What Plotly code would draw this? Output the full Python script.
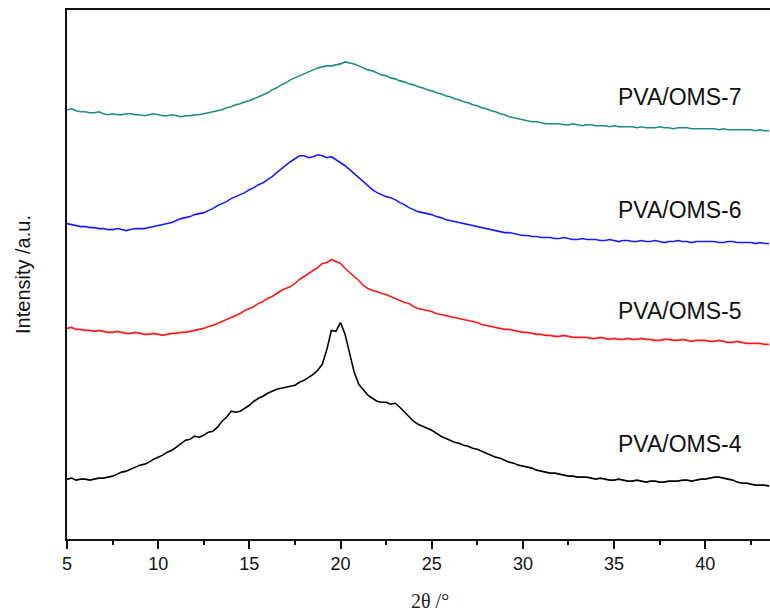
import plotly.graph_objects as go

# 2theta grid (degrees), 0.25 deg step from 5 to 43.5
two_theta = [5.0 + 0.25 * i for i in range(155)]

# Intensities (a.u., offset-stacked as in the figure)
oms4 = [60, 61, 59, 60, 60, 59, 60, 61, 61, 62,
        63, 65, 67, 68, 70, 72, 74, 75, 77, 80,
        82, 84, 87, 89, 92, 96, 99, 100, 103, 102,
        104, 107, 108, 112, 118, 122, 128, 127, 128, 131,
        134, 138, 141, 143, 146, 148, 150, 151, 152, 153,
        154, 157, 159, 162, 165, 169, 175, 190, 209, 208,
        217, 205, 185, 167, 155, 149, 144, 141, 138, 137,
        137, 135, 136, 132, 127, 122, 118, 115, 113, 111,
        109, 106, 103, 101, 99, 97, 96, 94, 93, 91,
        90, 88, 86, 84, 82, 81, 79, 77, 76, 74,
        73, 72, 71, 69, 68, 67, 66, 66, 65, 64,
        63, 63, 62, 62, 62, 61, 60, 61, 60, 59,
        59, 60, 59, 58, 58, 59, 58, 57, 58, 58,
        57, 57, 58, 58, 58, 59, 59, 58, 59, 60,
        60, 61, 62, 62, 61, 60, 59, 57, 56, 56,
        55, 54, 54, 54, 53]
oms5 = [211, 212, 210, 210, 209, 209, 208, 209, 208, 207,
        207, 208, 207, 206, 206, 207, 206, 205, 205, 206,
        205, 204, 205, 206, 206, 207, 207, 208, 209, 210,
        211, 213, 214, 216, 218, 220, 222, 224, 226, 229,
        231, 233, 236, 238, 241, 243, 246, 249, 251, 253,
        256, 260, 263, 266, 269, 272, 276, 277, 280, 278,
        276, 271, 267, 263, 259, 254, 251, 249, 248, 246,
        245, 243, 241, 239, 237, 236, 233, 231, 230, 229,
        228, 226, 225, 224, 223, 222, 221, 220, 219, 218,
        217, 215, 214, 213, 212, 211, 210, 210, 209, 208,
        207, 207, 206, 205, 205, 204, 204, 203, 203, 204,
        203, 202, 202, 202, 202, 201, 201, 202, 201, 200,
        201, 200, 200, 201, 200, 200, 201, 200, 200, 199,
        199, 200, 200, 199, 199, 200, 199, 198, 199, 199,
        199, 198, 198, 199, 198, 197, 197, 198, 197, 196,
        196, 196, 196, 195, 195]
oms6 = [316, 315, 314, 313, 313, 312, 312, 311, 311, 310,
        310, 311, 310, 309, 310, 311, 311, 311, 312, 313,
        314, 315, 316, 317, 319, 321, 322, 323, 325, 326,
        327, 329, 331, 334, 336, 338, 341, 343, 345, 347,
        350, 352, 355, 357, 360, 363, 367, 371, 375, 378,
        381, 384, 384, 382, 383, 385, 384, 382, 383, 380,
        377, 374, 370, 366, 362, 358, 354, 350, 347, 345,
        343, 342, 340, 337, 335, 332, 330, 328, 327, 326,
        325, 323, 322, 320, 319, 318, 317, 316, 315, 314,
        313, 312, 311, 310, 309, 308, 307, 307, 306, 305,
        304, 304, 303, 303, 302, 302, 302, 301, 301, 302,
        301, 300, 300, 301, 300, 300, 300, 299, 299, 300,
        299, 298, 299, 299, 298, 298, 299, 298, 298, 299,
        298, 297, 298, 298, 299, 298, 298, 297, 298, 298,
        298, 298, 298, 297, 297, 298, 298, 297, 297, 297,
        297, 296, 297, 296, 296]
oms7 = [430, 431, 429, 428, 428, 427, 427, 428, 426, 425,
        426, 425, 425, 426, 426, 425, 425, 424, 425, 426,
        425, 424, 424, 425, 424, 423, 424, 424, 425, 425,
        426, 427, 428, 429, 430, 432, 433, 435, 436, 438,
        439, 441, 443, 445, 447, 450, 452, 455, 457, 460,
        462, 464, 466, 468, 470, 472, 473, 474, 474, 475,
        476, 478, 477, 476, 474, 472, 470, 469, 467, 465,
        464, 462, 461, 459, 458, 456, 455, 453, 452, 450,
        449, 447, 446, 444, 443, 441, 440, 438, 437, 435,
        434, 432, 431, 429, 428, 426, 425, 423, 422, 421,
        420, 419, 418, 418, 417, 416, 416, 416, 416, 415,
        415, 416, 415, 414, 415, 415, 414, 414, 414, 413,
        414, 413, 413, 413, 413, 412, 413, 412, 412, 412,
        413, 412, 412, 411, 412, 412, 412, 411, 411, 411,
        411, 411, 411, 410, 411, 410, 410, 410, 410, 410,
        410, 409, 410, 409, 409]

series_names = ["PVA/OMS-4", "PVA/OMS-5", "PVA/OMS-6", "PVA/OMS-7"]
series_values = [oms4, oms5, oms6, oms7]
series_colors = ["#000000", "#ff1a1a", "#1a1aff", "#1f8c84"]
label_y = [95, 228, 330, 443]  # data-y of the text labels, same order as series

fig = go.Figure()
for name, vals, col in zip(series_names, series_values, series_colors):
    fig.add_trace(go.Scatter(x=two_theta[:len(vals)], y=vals, mode="lines", name=name,
                             line=dict(color=col, width=1.6), showlegend=False))

for name, ly in zip(series_names, label_y):
    fig.add_annotation(x=38.6, y=ly, text=name, showarrow=False, xanchor="center",
                       yanchor="middle", font=dict(family="Liberation Sans", size=23, color="#111"))

fig.add_annotation(xref="paper", yref="paper", x=(430 - 67) / 703, y=-0.118, text="2θ /°",
                   showarrow=False, xanchor="center", yanchor="middle",
                   font=dict(family="Liberation Serif", size=20, color="#222"))

fig.update_layout(
    width=770, height=613,
    margin=dict(l=67, r=0, t=10, b=74),
    paper_bgcolor="white", plot_bgcolor="white",
    font=dict(family="Liberation Sans", color="#111"),
    xaxis=dict(range=[5, 43.55], tickmode="array", tickvals=[5, 10, 15, 20, 25, 30, 35, 40],
               ticks="outside", ticklen=8, tickwidth=1.5, tickcolor="#111",
               minor=dict(ticks="outside", ticklen=4, tickwidth=1.5, tickcolor="#111",
                          tickvals=[7.5, 12.5, 17.5, 22.5, 27.5, 32.5, 37.5, 42.5]),
               showline=True, linecolor="#111", linewidth=1.6, mirror=True,
               showgrid=False, zeroline=False, tickfont=dict(size=18, family="Liberation Sans")),
    yaxis=dict(range=[0, 530], showticklabels=False, ticks="", showline=True,
               linecolor="#111", linewidth=1.6, showgrid=False, zeroline=False,
               title=dict(text="Intensity /a.u.", font=dict(size=20, family="Liberation Sans"),
                          standoff=29)),
)

fig.write_html("out.html")
